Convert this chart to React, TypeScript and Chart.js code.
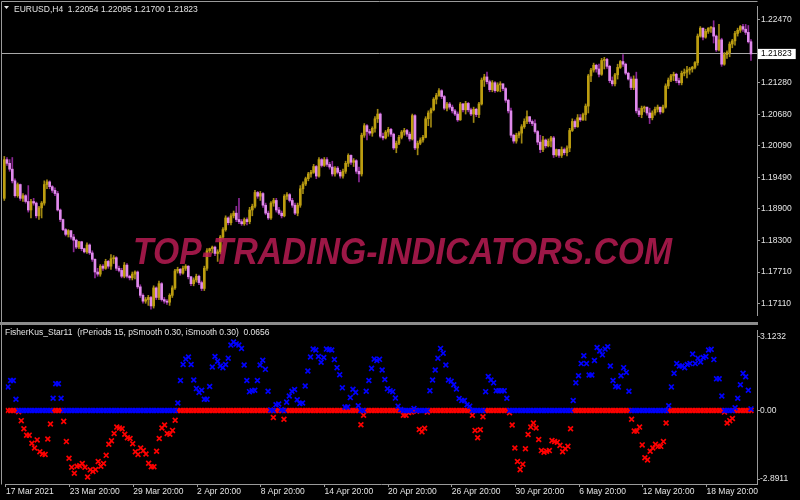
import React, { useEffect, useRef } from 'react';
import { Chart, registerables } from 'chart.js';

Chart.register(...registerables);

const FONT_FAMILY = '"Liberation Sans", Arial, sans-serif';
const TEXT_COLOR = '#e4e4e4';
const FRAME_COLOR = '#9a9a9a';
const UP_BODY = '#BD9E10';
const UP_WICK = '#A08812';
const DOWN_BODY = '#E08AEC';
const DOWN_WICK = '#8C2896';
const BLUE = '#0000FF';
const RED = '#FF0000';

const X_MIN = -0.8625;
const X_MAX = 282.26;

// ---- price data (EURUSD H4) ----
const firstOpen = 1.1910;
const closes = [
  1.1983, 1.1976, 1.1965, 1.1943, 1.1915, 1.1936, 1.1910, 1.1915, 1.1904, 1.1888,
  1.1904, 1.1901, 1.1877, 1.1892, 1.1901, 1.1936, 1.1941, 1.1932, 1.1925, 1.1919,
  1.1888, 1.1870, 1.1851, 1.1842, 1.1849, 1.1837, 1.1831, 1.1818, 1.1828, 1.1815,
  1.1809, 1.1822, 1.1807, 1.1795, 1.1771, 1.1767, 1.1782, 1.1778, 1.1791, 1.1782,
  1.1796, 1.1798, 1.1778, 1.1774, 1.1763, 1.1784, 1.1763, 1.1760, 1.1767, 1.1771,
  1.1743, 1.1727, 1.1716, 1.1719, 1.1723, 1.1707, 1.1741, 1.1723, 1.1749, 1.1719,
  1.1716, 1.1714, 1.1727, 1.1741, 1.1773, 1.1776, 1.1769, 1.1778, 1.1782, 1.1762,
  1.1749, 1.1756, 1.1763, 1.1751, 1.1740, 1.1778, 1.1811, 1.1815, 1.1818, 1.1806,
  1.1809, 1.1837, 1.1851, 1.1873, 1.1864, 1.1877, 1.1882, 1.1870, 1.1866, 1.1862,
  1.1870, 1.1866, 1.1888, 1.1895, 1.1921, 1.1914, 1.1919, 1.1897, 1.1882, 1.1873,
  1.1901, 1.1906, 1.1888, 1.1882, 1.1877, 1.1914, 1.1917, 1.1906, 1.1897, 1.1882,
  1.1897, 1.1928, 1.1937, 1.1947, 1.1956, 1.1959, 1.1970, 1.1952, 1.1983, 1.1972,
  1.1983, 1.1974, 1.1969, 1.1956, 1.1967, 1.1959, 1.1952, 1.1961, 1.1976, 1.1991,
  1.1978, 1.1981, 1.1961, 1.1956, 1.2029, 1.2047, 1.2036, 1.2033, 1.2042, 1.2060,
  1.2069, 1.2027, 1.2024, 1.2035, 1.2040, 1.2031, 1.2005, 1.2014, 1.2025, 1.2035,
  1.2038, 1.2031, 1.2022, 1.2066, 1.2005, 1.2014, 1.2020, 1.2025, 1.2060, 1.2071,
  1.2077, 1.2097, 1.2104, 1.2113, 1.2102, 1.2080, 1.2088, 1.2082, 1.2075, 1.2069,
  1.2058, 1.2088, 1.2077, 1.2089, 1.2077, 1.2069, 1.2078, 1.2068, 1.2088, 1.2133,
  1.2139, 1.2130, 1.2115, 1.2128, 1.2113, 1.2124, 1.2126, 1.2117, 1.2095, 1.2075,
  1.2029, 1.2018, 1.2029, 1.2033, 1.2045, 1.2055, 1.2064, 1.2055, 1.2051, 1.2036,
  1.2016, 1.2002, 1.2020, 1.2009, 1.2018, 1.2024, 1.1992, 1.2002, 1.1991, 1.2002,
  1.1996, 1.2005, 1.2038, 1.2055, 1.2045, 1.2062, 1.2058, 1.2068, 1.2084, 1.2141,
  1.2152, 1.2161, 1.2154, 1.2144, 1.2170, 1.2172, 1.2159, 1.2132, 1.2126, 1.2143,
  1.2157, 1.2168, 1.2163, 1.2146, 1.2135, 1.2119, 1.2135, 1.2075, 1.2068, 1.2080,
  1.2082, 1.2071, 1.2062, 1.2071, 1.2078, 1.2082, 1.2073, 1.2082, 1.2122, 1.2133,
  1.2141, 1.2144, 1.2132, 1.2128, 1.2146, 1.2148, 1.2152, 1.2154, 1.2157, 1.2166,
  1.2216, 1.2231, 1.2214, 1.2225, 1.2231, 1.2232, 1.2216, 1.2190, 1.2209, 1.2163,
  1.2181, 1.2185, 1.2201, 1.2207, 1.2221, 1.2227, 1.2234, 1.2229, 1.2223, 1.22054,
  1.21823,
];
const highs = [
  1.1989, 1.1987, 1.1983, 1.1987, 1.1947, 1.1939, 1.1937, 1.1919, 1.1917, 1.1934,
  1.1908, 1.1910, 1.1903, 1.1895, 1.1904, 1.1943, 1.1945, 1.1943, 1.1934, 1.1930,
  1.1923, 1.1890, 1.1871, 1.1853, 1.1851, 1.1849, 1.1842, 1.1833, 1.1829, 1.1829,
  1.1816, 1.1826, 1.1824, 1.1811, 1.1796, 1.1778, 1.1785, 1.1785, 1.1795, 1.1793,
  1.1804, 1.1802, 1.1800, 1.1782, 1.1778, 1.1789, 1.1787, 1.1765, 1.1771, 1.1773,
  1.1773, 1.1747, 1.1730, 1.1723, 1.1727, 1.1725, 1.1745, 1.1743, 1.1754, 1.1751,
  1.1723, 1.1719, 1.1730, 1.1745, 1.1776, 1.1780, 1.1778, 1.1782, 1.1785, 1.1783,
  1.1763, 1.1760, 1.1767, 1.1765, 1.1754, 1.1782, 1.1815, 1.1816, 1.1820, 1.1820,
  1.1813, 1.1840, 1.1855, 1.1877, 1.1875, 1.1881, 1.1886, 1.1895, 1.1910, 1.1870,
  1.1873, 1.1873, 1.1893, 1.1899, 1.1925, 1.1923, 1.1923, 1.1921, 1.1901, 1.1886,
  1.1904, 1.1910, 1.1910, 1.1893, 1.1886, 1.1917, 1.1921, 1.1919, 1.1910, 1.1901,
  1.1901, 1.1934, 1.1941, 1.1950, 1.1959, 1.1963, 1.1974, 1.1972, 1.1987, 1.1985,
  1.1987, 1.1987, 1.1978, 1.1980, 1.1970, 1.1970, 1.1963, 1.1965, 1.1980, 1.1994,
  1.1992, 1.1985, 1.1983, 1.1969, 1.2033, 1.2051, 1.2049, 1.2040, 1.2045, 1.2064,
  1.2078, 1.2071, 1.2033, 1.2038, 1.2044, 1.2042, 1.2033, 1.2018, 1.2029, 1.2038,
  1.2042, 1.2040, 1.2035, 1.2069, 1.2068, 1.2018, 1.2024, 1.2029, 1.2064, 1.2075,
  1.2080, 1.2100, 1.2108, 1.2117, 1.2115, 1.2104, 1.2091, 1.2091, 1.2086, 1.2078,
  1.2073, 1.2091, 1.2089, 1.2093, 1.2091, 1.2080, 1.2082, 1.2080, 1.2091, 1.2137,
  1.2144, 1.2148, 1.2133, 1.2132, 1.2130, 1.2128, 1.2130, 1.2124, 1.2119, 1.2097,
  1.2080, 1.2031, 1.2033, 1.2036, 1.2049, 1.2060, 1.2075, 1.2064, 1.2058, 1.2058,
  1.2038, 1.2029, 1.2027, 1.2022, 1.2022, 1.2027, 1.2027, 1.2003, 1.2002, 1.2007,
  1.2005, 1.2009, 1.2042, 1.2060, 1.2058, 1.2068, 1.2068, 1.2071, 1.2088, 1.2144,
  1.2155, 1.2165, 1.2163, 1.2163, 1.2174, 1.2176, 1.2174, 1.2161, 1.2139, 1.2146,
  1.2163, 1.2170, 1.2181, 1.2165, 1.2148, 1.2139, 1.2141, 1.2148, 1.2080, 1.2084,
  1.2084, 1.2082, 1.2080, 1.2075, 1.2082, 1.2086, 1.2082, 1.2086, 1.2126, 1.2137,
  1.2144, 1.2148, 1.2146, 1.2137, 1.2150, 1.2154, 1.2159, 1.2157, 1.2159, 1.2168,
  1.2220, 1.2234, 1.2227, 1.2229, 1.2232, 1.2234, 1.2245, 1.2218, 1.2238, 1.2212,
  1.2185, 1.2188, 1.2205, 1.2210, 1.2225, 1.2231, 1.2236, 1.2238, 1.2238, 1.2236,
  1.22095,
];
const lows = [
  1.1906, 1.1972, 1.1961, 1.1939, 1.1912, 1.1912, 1.1906, 1.1904, 1.1901, 1.1884,
  1.1873, 1.1897, 1.1873, 1.1870, 1.1873, 1.1897, 1.1928, 1.1928, 1.1921, 1.1915,
  1.1886, 1.1866, 1.1849, 1.1839, 1.1837, 1.1833, 1.1809, 1.1815, 1.1815, 1.1811,
  1.1807, 1.1806, 1.1804, 1.1791, 1.1760, 1.1763, 1.1763, 1.1774, 1.1776, 1.1778,
  1.1776, 1.1787, 1.1774, 1.1771, 1.1760, 1.1760, 1.1760, 1.1756, 1.1756, 1.1758,
  1.1740, 1.1723, 1.1712, 1.1712, 1.1708, 1.1701, 1.1703, 1.1719, 1.1719, 1.1716,
  1.1712, 1.1710, 1.1708, 1.1723, 1.1738, 1.1769, 1.1765, 1.1767, 1.1774, 1.1758,
  1.1745, 1.1745, 1.1752, 1.1747, 1.1736, 1.1736, 1.1774, 1.1807, 1.1807, 1.1802,
  1.1791, 1.1805, 1.1833, 1.1848, 1.1860, 1.1860, 1.1873, 1.1866, 1.1862, 1.1859,
  1.1859, 1.1860, 1.1862, 1.1877, 1.1892, 1.1910, 1.1906, 1.1893, 1.1879, 1.1870,
  1.1870, 1.1895, 1.1884, 1.1879, 1.1873, 1.1875, 1.1908, 1.1903, 1.1893, 1.1879,
  1.1877, 1.1893, 1.1919, 1.1934, 1.1943, 1.1950, 1.1957, 1.1947, 1.1950, 1.1969,
  1.1970, 1.1970, 1.1965, 1.1952, 1.1952, 1.1956, 1.1948, 1.1948, 1.1957, 1.1970,
  1.1974, 1.1970, 1.1957, 1.1941, 1.1952, 1.2025, 1.2020, 1.2029, 1.2027, 1.2035,
  1.2053, 1.2024, 1.2020, 1.2022, 1.2027, 1.2027, 1.2002, 1.1996, 1.2011, 1.2022,
  1.2029, 1.2027, 1.2018, 1.2020, 1.2002, 1.1992, 1.2011, 1.2016, 1.2024, 1.2047,
  1.2044, 1.2075, 1.2088, 1.2102, 1.2098, 1.2077, 1.2075, 1.2078, 1.2071, 1.2066,
  1.2055, 1.2057, 1.2073, 1.2069, 1.2073, 1.2066, 1.2053, 1.2064, 1.2062, 1.2086,
  1.2121, 1.2126, 1.2111, 1.2111, 1.2110, 1.2111, 1.2111, 1.2113, 1.2091, 1.2071,
  1.2025, 1.2014, 1.2014, 1.2024, 1.2014, 1.2042, 1.2051, 1.2051, 1.2047, 1.2033,
  1.2011, 1.1996, 1.1998, 1.2005, 1.2007, 1.2007, 1.1987, 1.1989, 1.1987, 1.1987,
  1.1992, 1.1990, 1.1998, 1.2036, 1.2042, 1.2044, 1.2055, 1.2057, 1.2057, 1.2071,
  1.2130, 1.2148, 1.2148, 1.2139, 1.2142, 1.2154, 1.2155, 1.2128, 1.2122, 1.2122,
  1.2135, 1.2155, 1.2159, 1.2143, 1.2133, 1.2115, 1.2115, 1.2071, 1.2064, 1.2062,
  1.2073, 1.2067, 1.2051, 1.2058, 1.2067, 1.2073, 1.2069, 1.2071, 1.2080, 1.2117,
  1.2130, 1.2132, 1.2128, 1.2124, 1.2124, 1.2141, 1.2137, 1.2144, 1.2148, 1.2154,
  1.2161, 1.2214, 1.2209, 1.2212, 1.2221, 1.2223, 1.2203, 1.2187, 1.2188, 1.2159,
  1.2161, 1.2174, 1.2177, 1.2194, 1.2199, 1.2216, 1.2223, 1.2225, 1.2219, 1.2203,
  1.2170,
];

// ---- FisherKus_Star11 values ----
const fisher = [
  0.99, 1.26, 1.26, 0.47, -0.05, -0.43, -0.77, -1.04, -1.04, -1.38,
  -1.58, -1.24, -1.74, -1.83, -1.85, -1.20, -0.57, 0.51, 1.12, 1.12,
  0.51, -0.46, -1.31, -2.01, -2.39, -2.64, -2.35, -2.33, -2.23, -2.39,
  -2.80, -2.50, -2.57, -2.49, -2.15, -2.35, -2.23, -1.89, -1.42, -1.28,
  -0.97, -0.70, -0.74, -0.77, -1.00, -1.15, -1.18, -1.40, -1.74, -1.85,
  -1.58, -1.69, -1.83, -2.22, -2.37, -2.37, -1.72, -1.18, -0.74, -0.61,
  -0.97, -1.00, -0.84, -0.41, 0.31, 1.26, 1.93, 2.16, 2.25, 1.93,
  1.28, 0.92, 0.76, 0.85, 0.47, 0.47, 1.01, 1.83, 2.27, 2.07,
  1.87, 1.80, 1.93, 2.20, 2.75, 2.88, 2.80, 2.75, 2.61, 1.91,
  1.26, 0.79, 0.83, 0.85, 1.26, 1.91, 2.11, 1.73, 0.81, 0.02,
  -0.30, 0.24, 0.27, 0.03, -0.37, 0.35, 0.61, 0.81, 0.88, 0.45,
  0.29, 0.31, 1.03, 1.66, 2.25, 2.58, 2.54, 2.27, 2.03, 2.23,
  2.58, 2.56, 2.54, 2.14, 1.80, 1.50, 0.95, 0.14, 0.14, 0.54,
  0.89, 0.76, 0.20, -0.60, -0.20, 0.81, 1.26, 1.77, 2.16, 2.10,
  2.15, 1.70, 1.30, 0.91, 0.83, 0.79, 0.52, 0.18, 0.04, -0.20,
  -0.20, -0.09, -0.07, 0.08, -0.03, -0.80, -0.90, -0.75, -0.07, 0.83,
  1.28, 1.70, 2.20, 2.61, 2.41, 1.91, 1.28, 1.23, 1.08, 0.90,
  0.50, 0.42, 0.42, 0.24, 0.18, -0.20, -0.84, -1.15, -0.81, -0.27,
  0.79, 1.43, 1.28, 1.16, 0.83, 0.83, 0.83, 0.83, 0.51, -0.10,
  -0.61, -1.58, -2.15, -2.49, -2.26, -1.61, -1.01, -0.70, -0.53, -0.74,
  -1.22, -1.69, -1.76, -1.72, -1.69, -1.27, -1.31, -1.34, -1.47, -1.74,
  -1.61, -1.51, -0.77, 0.42, 1.16, 1.46, 1.97, 2.30, 1.97, 1.49,
  1.49, 2.10, 2.65, 2.50, 2.34, 2.58, 2.68, 1.87, 1.26, 1.01,
  0.99, 1.46, 1.80, 1.60, 0.81, -0.37, -0.87, -0.87, -0.70, -1.45,
  -1.99, -2.08, -1.72, -1.58, -1.42, -1.51, -1.51, -1.31, -0.53, 0.20,
  0.99, 1.56, 1.97, 1.87, 1.87, 1.80, 1.93, 1.97, 2.37, 1.97,
  2.20, 2.04, 2.23, 2.27, 2.54, 2.57, 2.14, 1.33, 1.33, 0.61,
  -0.07, -0.53, -0.43, -0.34, 0.11, 0.51, 1.08, 1.56, 1.42, 0.85,
  0.0656,
];

const timeLabels = [
  '17 Mar 2021', '23 Mar 20:00', '29 Mar 20:00', '2 Apr 20:00', '8 Apr 20:00', '14 Apr 20:00',
  '20 Apr 20:00', '26 Apr 20:00', '30 Apr 20:00', '6 May 20:00', '12 May 20:00', '18 May 20:00',
];
const priceTicks = [1.2247, 1.2128, 1.2068, 1.2009, 1.1949, 1.1890, 1.1830, 1.1771, 1.1711];
const bidPrice = 1.21823;
const fisherTicks = [3.1232, 0, -2.8911];
const headerText = 'EURUSD,H4  1.22054 1.22095 1.21700 1.21823';
const indicatorText = 'FisherKus_Star11  (rPeriods 15, pSmooth 0.30, iSmooth 0.30)  0.0656';
const watermarkText = 'TOP-TRADING-INDICATORS.COM';

const font = { family: FONT_FAMILY, size: 8.5 };

const topDecor = {
  id: 'topDecor',
  afterDatasetsDraw(chart: any) {
    const ctx = chart.ctx;
    ctx.save();
    ctx.font = `italic bold 36px ${FONT_FAMILY}`;
    const w = ctx.measureText(watermarkText).width;
    ctx.translate(133, 264);
    ctx.scale(539 / w, 1);
    ctx.fillStyle = 'rgba(186, 28, 84, 0.84)';
    ctx.textBaseline = 'alphabetic';
    ctx.fillText(watermarkText, 0, 0);
    ctx.restore();
  },
  afterDraw(chart: any) {
    const ctx = chart.ctx;
    const a = chart.chartArea;
    ctx.save();
    ctx.strokeStyle = FRAME_COLOR;
    ctx.lineWidth = 1;
    ctx.beginPath();
    ctx.moveTo(1.5, chart.height);
    ctx.lineTo(1.5, 1.5);
    ctx.lineTo(a.right + 0.5, 1.5);
    ctx.stroke();
    ctx.fillStyle = TEXT_COLOR;
    ctx.beginPath();
    ctx.moveTo(4, 6);
    ctx.lineTo(9, 6);
    ctx.lineTo(6.5, 9);
    ctx.closePath();
    ctx.fill();
    ctx.font = `8.5px ${FONT_FAMILY}`;
    ctx.textBaseline = 'alphabetic';
    ctx.fillText(headerText, 14, 11.5);
    ctx.restore();
  },
};

const bottomDecor = {
  id: 'bottomDecor',
  afterDraw(chart: any) {
    const ctx = chart.ctx;
    const a = chart.chartArea;
    ctx.save();
    ctx.strokeStyle = FRAME_COLOR;
    ctx.lineWidth = 1;
    ctx.beginPath();
    ctx.moveTo(1.5, 0);
    ctx.lineTo(1.5, a.bottom + 0.5);
    ctx.stroke();
    ctx.fillStyle = TEXT_COLOR;
    ctx.font = `8.5px ${FONT_FAMILY}`;
    ctx.textBaseline = 'alphabetic';
    ctx.fillText(indicatorText, 5, 9.5);
    ctx.restore();
  },
};

export default function App() {
  const topRef = useRef<HTMLCanvasElement>(null);
  const botRef = useRef<HTMLCanvasElement>(null);

  useEffect(() => {
    const opens = closes.map((c, i) => (i === 0 ? firstOpen : closes[i - 1]));
    const isUp = closes.map((c, i) => c >= opens[i]);
    const bodies = closes.map((c, i) => ({ x: i, y: [Math.min(opens[i], c), Math.max(opens[i], c)] }));
    const wicks = closes.map((c, i) => ({
      x: i,
      y: [Math.min(lows[i], opens[i], c), Math.max(highs[i], opens[i], c)],
    }));

    const top = new Chart(topRef.current as HTMLCanvasElement, {
      type: 'bar',
      data: {
        datasets: [
          {
            data: bodies as any,
            backgroundColor: isUp.map((u) => (u ? UP_BODY : DOWN_BODY)),
            barThickness: 2,
            grouped: false,
            borderWidth: 0,
            minBarLength: 1,
          } as any,
          {
            data: wicks as any,
            backgroundColor: isUp.map((u) => (u ? UP_WICK : DOWN_WICK)),
            barThickness: 1,
            grouped: false,
            borderWidth: 0,
            minBarLength: 1,
          } as any,
        ],
      },
      options: {
        responsive: false,
        animation: false,
        events: [],
        layout: { padding: { left: 2, top: 2, right: 0, bottom: 1 } },
        plugins: { legend: { display: false }, tooltip: { enabled: false } },
        scales: {
          x: {
            type: 'linear',
            min: X_MIN,
            max: X_MAX,
            offset: false,
            display: false,
            grid: { display: false, offset: false },
          },
          y: {
            type: 'linear',
            position: 'right',
            min: 1.16882,
            max: 1.22726,
            stacked: false,
            beginAtZero: false,
            afterFit: (s: any) => { s.width = 43; },
            afterBuildTicks: (s: any) => {
              s.ticks = [...priceTicks, bidPrice].map((v) => ({ value: v }));
            },
            ticks: {
              autoSkip: false,
              padding: 1,
              font,
              callback: (v: any) => Number(v).toFixed(5),
              color: (c: any) => (c.tick && c.tick.value === bidPrice ? '#000000' : TEXT_COLOR),
              showLabelBackdrop: (c: any) => !!(c.tick && c.tick.value === bidPrice),
              backdropColor: '#ffffff',
              backdropPadding: { top: 0, bottom: 0, left: 3, right: 4 },
            },
            grid: {
              drawOnChartArea: true,
              drawTicks: true,
              tickLength: 3,
              tickColor: FRAME_COLOR,
              color: (c: any) => (c.tick && c.tick.value === bidPrice ? '#a8a8a8' : 'rgba(0,0,0,0)'),
            },
            border: { display: true, color: FRAME_COLOR },
          },
        },
      } as any,
      plugins: [topDecor],
    });

    const bot = new Chart(botRef.current as HTMLCanvasElement, {
      type: 'scatter',
      data: {
        datasets: [
          {
            data: fisher.map((v, i) => ({ x: i, y: v > 0 ? v : 0 })),
            borderColor: BLUE,
            backgroundColor: BLUE,
            pointStyle: 'crossRot',
            pointRadius: 3.4,
            borderWidth: 1.7,
          } as any,
          {
            data: fisher.map((v, i) => ({ x: i, y: v < 0 ? v : 0 })),
            borderColor: RED,
            backgroundColor: RED,
            pointStyle: 'crossRot',
            pointRadius: 3.4,
            borderWidth: 1.7,
          } as any,
        ],
      },
      options: {
        responsive: false,
        animation: false,
        events: [],
        layout: { padding: { left: 2, top: 0, right: 0, bottom: 0 } },
        plugins: { legend: { display: false }, tooltip: { enabled: false } },
        scales: {
          x: {
            type: 'linear',
            min: X_MIN,
            max: X_MAX,
            offset: false,
            afterFit: (s: any) => { s.height = 16; },
            afterBuildTicks: (s: any) => {
              s.ticks = timeLabels.map((_, k) => ({ value: k * 24 - 0.75 }));
            },
            ticks: {
              autoSkip: false,
              maxRotation: 0,
              minRotation: 0,
              align: 'start',
              padding: 0,
              color: TEXT_COLOR,
              font,
              callback: (_v: any, i: number) => timeLabels[i],
            },
            grid: { drawOnChartArea: false, drawTicks: true, tickLength: 3, tickColor: FRAME_COLOR, offset: false },
            border: { display: true, color: FRAME_COLOR },
          },
          y: {
            type: 'linear',
            position: 'right',
            min: -3.095,
            max: 3.355,
            afterFit: (s: any) => { s.width = 43; },
            afterBuildTicks: (s: any) => {
              s.ticks = fisherTicks.map((v) => ({ value: v }));
            },
            ticks: {
              autoSkip: false,
              padding: 0,
              color: TEXT_COLOR,
              font,
              callback: (v: any) => (Number(v) === 0 ? '0.00' : String(v)),
            },
            grid: { drawOnChartArea: false, drawTicks: true, tickLength: 3, tickColor: FRAME_COLOR },
            border: { display: true, color: FRAME_COLOR },
          },
        },
      } as any,
      plugins: [bottomDecor],
    });

    return () => {
      top.destroy();
      bot.destroy();
    };
  }, []);

  return (
    <div style={{ position: 'fixed', left: 0, top: 0, width: 800, height: 500, background: '#000', overflow: 'hidden' }}>
      <canvas ref={topRef} width={800} height={322} style={{ position: 'absolute', left: 0, top: 0, display: 'block' }} />
      <div style={{ position: 'absolute', left: 0, top: 322, width: 758, height: 3, background: '#8c8c8c' }} />
      <canvas ref={botRef} width={800} height={175} style={{ position: 'absolute', left: 0, top: 325, display: 'block' }} />
    </div>
  );
}
